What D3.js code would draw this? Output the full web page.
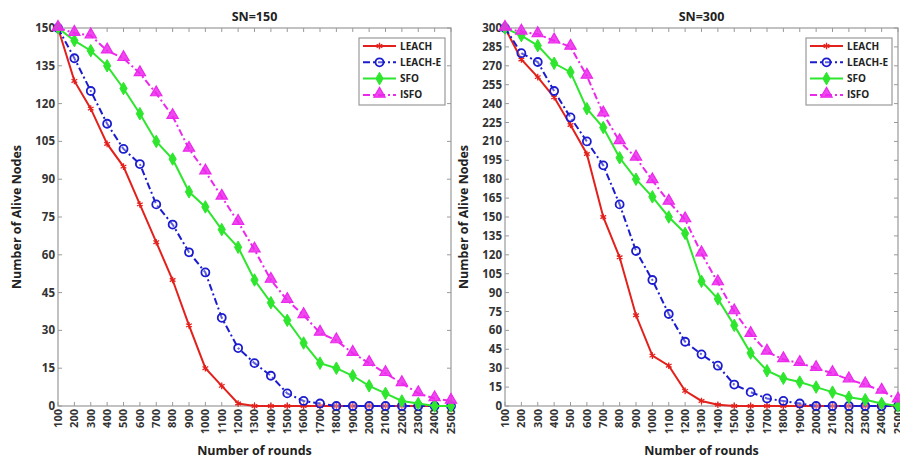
<!DOCTYPE html>
<html>
<head>
<meta charset="utf-8">
<script src="https://cdn.jsdelivr.net/npm/d3@7"></script>
<style>
body { margin:0; background:#fff; }
text { font-family: "Open Sans", "Liberation Sans", sans-serif; font-weight:bold; fill:#333; }
</style>
</head>
<body>
<svg id="fig" width="900" height="459"></svg>
<script>
// rounds on x axis
var rounds = [100,200,300,400,500,600,700,800,900,1000,1100,1200,1300,1400,1500,1600,1700,1800,1900,2000,2100,2200,2300,2400,2500];
var seriesNames = ["LEACH","LEACH-E","SFO","ISFO"];

// SN=150
var leach150  = [150,129,118,104,95,80,65,50,32,15,8,1,0,0,0,0,0,0,0,0,0,0,0,0,0];
var leachE150 = [150,138,125,112,102,96,80,72,61,53,35,23,17,12,5,2,1,0,0,0,0,0,0,0,0];
var sfo150    = [150,145,141,135,126,116,105,98,85,79,70,63,50,41,34,25,17,15,12,8,5,2,1,0,0];
var isfo150   = [150,148,147,141,138,132,124,115,102,93,83,73,62,50,42,36,29,26,21,17,13,9,5,3,2];

// SN=300
var leach300  = [300,275,261,245,223,200,150,118,72,40,32,12,4,1,0,0,0,0,0,0,0,0,0,0,0];
var leachE300 = [300,280,273,250,229,210,191,160,123,100,73,51,41,32,17,11,6,4,2,0,0,0,0,0,0];
var sfo300    = [300,294,286,272,265,236,221,197,180,166,150,137,99,85,64,42,28,22,19,15,11,7,5,2,0];
var isfo300   = [300,297,295,290,285,262,232,210,197,179,162,148,121,98,75,57,43,37,34,30,26,21,17,12,5];

var yTicks150 = d3.range(0,151,15);
var yTicks300 = d3.range(0,301,15);

var colors = {"LEACH":"#e3211c","LEACH-E":"#1c1ccf","SFO":"#2ee62e","ISFO":"#ec28ec"};
var dashes = {"LEACH":null,"LEACH-E":"7,3,2,3","SFO":null,"ISFO":"7,3,2,3"};

var svg = d3.select("#fig");

function drawMarker(g, name, x, y) {
  var c = colors[name];
  if (name == "LEACH") {
    g.append("path").attr("d", d3.symbol().type(d3.symbolAsterisk).size(30)())
      .attr("transform","translate("+x+","+y+")")
      .attr("stroke",c).attr("stroke-width",1.3).attr("fill","none");
  } else if (name == "LEACH-E") {
    g.append("circle").attr("cx",x).attr("cy",y).attr("r",4)
      .attr("stroke",c).attr("stroke-width",1.8).attr("fill","#fff").attr("fill-opacity",0.3);
  } else if (name == "SFO") {
    g.append("path").attr("d", d3.symbol().type(d3.symbolDiamond).size(45)())
      .attr("transform","translate("+x+","+y+")")
      .attr("fill",c).attr("stroke",c).attr("stroke-width",1);
  } else {
    g.append("path").attr("d", d3.symbol().type(d3.symbolTriangle).size(55)())
      .attr("transform","translate("+x+","+(y-1)+")")
      .attr("fill",c).attr("fill-opacity",0.85).attr("stroke",c).attr("stroke-width",1.2);
  }
}

function panel(opt) {
  var x = d3.scaleLinear().domain([100,2500]).range([opt.x0, opt.x1]);
  var y = d3.scaleLinear().domain([0, opt.ymax]).range([406, 28]);
  var g = svg.append("g");

  // plot box
  g.append("rect").attr("x",opt.x0).attr("y",28)
    .attr("width",opt.x1-opt.x0).attr("height",378)
    .attr("fill","#fff").attr("stroke","#9a9a9a").attr("stroke-width",1.2);

  // inward ticks on all sides
  rounds.forEach(function(r){
    g.append("line").attr("x1",x(r)).attr("x2",x(r)).attr("y1",406).attr("y2",402).attr("stroke","#9a9a9a");
    g.append("line").attr("x1",x(r)).attr("x2",x(r)).attr("y1",28).attr("y2",32).attr("stroke","#9a9a9a");
    g.append("text").attr("transform","translate("+x(r)+",409) rotate(-90)")
      .attr("text-anchor","end").attr("dy","0.35em")
      .style("font-size","11px").text(r);
  });
  opt.yticks.forEach(function(t){
    g.append("line").attr("x1",opt.x0).attr("x2",opt.x0+4).attr("y1",y(t)).attr("y2",y(t)).attr("stroke","#9a9a9a");
    g.append("line").attr("x1",opt.x1).attr("x2",opt.x1-4).attr("y1",y(t)).attr("y2",y(t)).attr("stroke","#9a9a9a");
    g.append("text").attr("x",opt.x0-3).attr("y",y(t)).attr("dy","0.35em")
      .attr("text-anchor","end").style("font-size","11.5px").text(t);
  });

  // titles
  g.append("text").attr("x",(opt.x0+opt.x1)/2).attr("y",21).attr("text-anchor","middle")
    .style("font-size","12.5px").style("fill","#222").text(opt.title);
  g.append("text").attr("x",(opt.x0+opt.x1)/2).attr("y",455).attr("text-anchor","middle")
    .style("font-size","12.5px").style("fill","#222").text("Number of rounds");
  g.append("text").attr("transform","translate("+(opt.x0-37)+",217) rotate(-90)")
    .attr("text-anchor","middle").style("font-size","12.5px").style("fill","#222")
    .text("Number of Alive Nodes");

  var line = d3.line().x(function(d,i){ return x(rounds[i]); }).y(function(d){ return y(d); });

  // draw in z order: lowest first
  opt.series.forEach(function(s, k){
    var name = seriesNames[k];
    g.append("path").datum(s).attr("d",line).attr("fill","none")
      .attr("stroke",colors[name]).attr("stroke-width",2)
      .attr("stroke-dasharray",dashes[name]);
    s.forEach(function(v,i){ drawMarker(g, name, x(rounds[i]), y(v)); });
  });

  // legend
  var lx = opt.x1 - 92, ly = 38;
  g.append("rect").attr("x",lx).attr("y",ly).attr("width",86).attr("height",67)
    .attr("fill","#fff").attr("stroke","#9a9a9a").attr("stroke-width",1.2);
  seriesNames.forEach(function(name,k){
    var yy = ly + 8 + k*16.3;
    g.append("line").attr("x1",lx+4).attr("x2",lx+37).attr("y1",yy).attr("y2",yy)
      .attr("stroke",colors[name]).attr("stroke-width",2).attr("stroke-dasharray",dashes[name]);
    drawMarker(g, name, lx+20.5, yy);
    g.append("text").attr("x",lx+41).attr("y",yy).attr("dy","0.35em")
      .style("font-size","10px").style("fill","#222").text(name);
  });
}

panel({x0:58, x1:451, ymax:150, yticks:yTicks150, title:"SN=150",
       series:[leach150, leachE150, sfo150, isfo150]});
panel({x0:505, x1:898, ymax:300, yticks:yTicks300, title:"SN=300",
       series:[leach300, leachE300, sfo300, isfo300]});
</script>
</body>
</html>
